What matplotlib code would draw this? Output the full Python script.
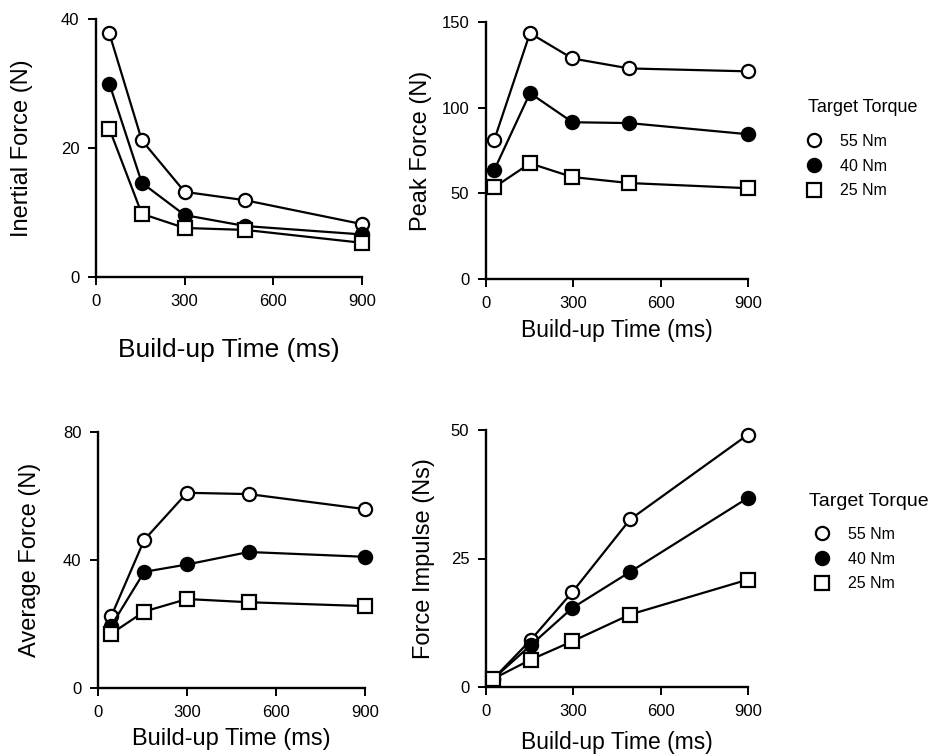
import matplotlib
matplotlib.use("Agg")
import matplotlib.pyplot as plt
from matplotlib.lines import Line2D

plt.rcParams['font.family'] = ['Liberation Sans', 'DejaVu Sans']

# build-up times (ms) as plotted in each panel
time_inertial = [45, 155, 300, 505, 900]
time_peak = [28, 151, 297, 492, 900]
time_average = [45, 156, 300, 508, 900]
time_impulse = [25, 153, 297, 495, 900]

torques = ['55 Nm', '40 Nm', '25 Nm']

inertial_55 = [37.8, 21.2, 13.2, 11.9, 8.2]
inertial_40 = [30.0, 14.6, 9.6, 7.9, 6.6]
inertial_25 = [23.0, 9.8, 7.6, 7.3, 5.3]

peak_55 = [81, 143.5, 128.7, 122.9, 121.2]
peak_40 = [63.5, 108.5, 91.5, 91.0, 84.5]
peak_25 = [53.5, 67.5, 59.5, 56.0, 53.0]

average_55 = [22.5, 46.3, 61.0, 60.6, 55.9]
average_40 = [19.5, 36.3, 38.6, 42.5, 41.0]
average_25 = [17.0, 23.9, 27.8, 26.8, 25.6]

impulse_55 = [1.6, 9.1, 18.5, 32.6, 49.1]
impulse_40 = [1.6, 8.1, 15.4, 22.4, 36.8]
impulse_25 = [1.6, 5.3, 8.9, 14.1, 20.9]

W, H = 930, 755
fig = plt.figure(figsize=(W / 100, H / 100), dpi=100)


def add_ax(left, top, right, bottom):
    return fig.add_axes([left / W, 1 - bottom / H, (right - left) / W, (bottom - top) / H])


styles = [
    dict(marker='o', mfc='white', mec='black'),
    dict(marker='o', mfc='black', mec='black'),
    dict(marker='s', mfc='white', mec='black'),
]


def panel(ax, times, series, ylim, yticks, ylabel, xlabel_size, ylabel_pad, xlabel_pad):
    for vals, st in zip(series, styles):
        ax.plot(times, vals, color='black', lw=1.6, ms=9.5, mew=1.6,
                clip_on=False, zorder=3, **st)
    ax.set_xlim(0, 900)
    ax.set_ylim(*ylim)
    ax.set_xticks([0, 300, 600, 900])
    ax.set_yticks(yticks)
    for s in ['top', 'right']:
        ax.spines[s].set_visible(False)
    for s in ['left', 'bottom']:
        ax.spines[s].set_linewidth(1.7)
    ax.tick_params(direction='out', length=6, width=1.4, labelsize=12, pad=6)
    ax.set_ylabel(ylabel, fontsize=17, labelpad=ylabel_pad)
    ax.set_xlabel('Build-up Time (ms)', fontsize=xlabel_size, labelpad=xlabel_pad)


ax1 = add_ax(96, 19, 362, 277)
panel(ax1, time_inertial, [inertial_55, inertial_40, inertial_25],
      (0, 40), [0, 20, 40], 'Inertial Force (N)', 19, 20, 21)

ax2 = add_ax(486, 22, 748, 279)
panel(ax2, time_peak, [peak_55, peak_40, peak_25],
      (0, 150), [0, 50, 100, 150], 'Peak Force (N)', 16.5, 7, 6)

ax3 = add_ax(98, 432, 365, 688)
panel(ax3, time_average, [average_55, average_40, average_25],
      (0, 80), [0, 40, 80], 'Average Force (N)', 17, 16, 6)

ax4 = add_ax(486, 430, 748, 687)
panel(ax4, time_impulse, [impulse_55, impulse_40, impulse_25],
      (0, 50), [0, 25, 50], 'Force Impulse (Ns)', 16.5, 11, 9)

handles = [Line2D([], [], ls='none', ms=9.5, mew=1.6, **st) for st in styles]
# (title x, title y, title size, marker column x)
for tx, ty, tsize, mx in [(808, 108, 13, 806), (809, 501, 14, 814)]:
    fig.text(tx / W, 1 - ty / H, 'Target Torque', fontsize=tsize,
             ha='left', va='center')
    fig.legend(handles, torques, frameon=False, loc='upper left',
               bbox_to_anchor=(mx / W, 1 - (ty + 26) / H),
               borderaxespad=0, borderpad=0,
               fontsize=11.5, handlelength=1.0, handletextpad=1.1,
               labelspacing=0.6)

fig.savefig('out.png', dpi=100)
